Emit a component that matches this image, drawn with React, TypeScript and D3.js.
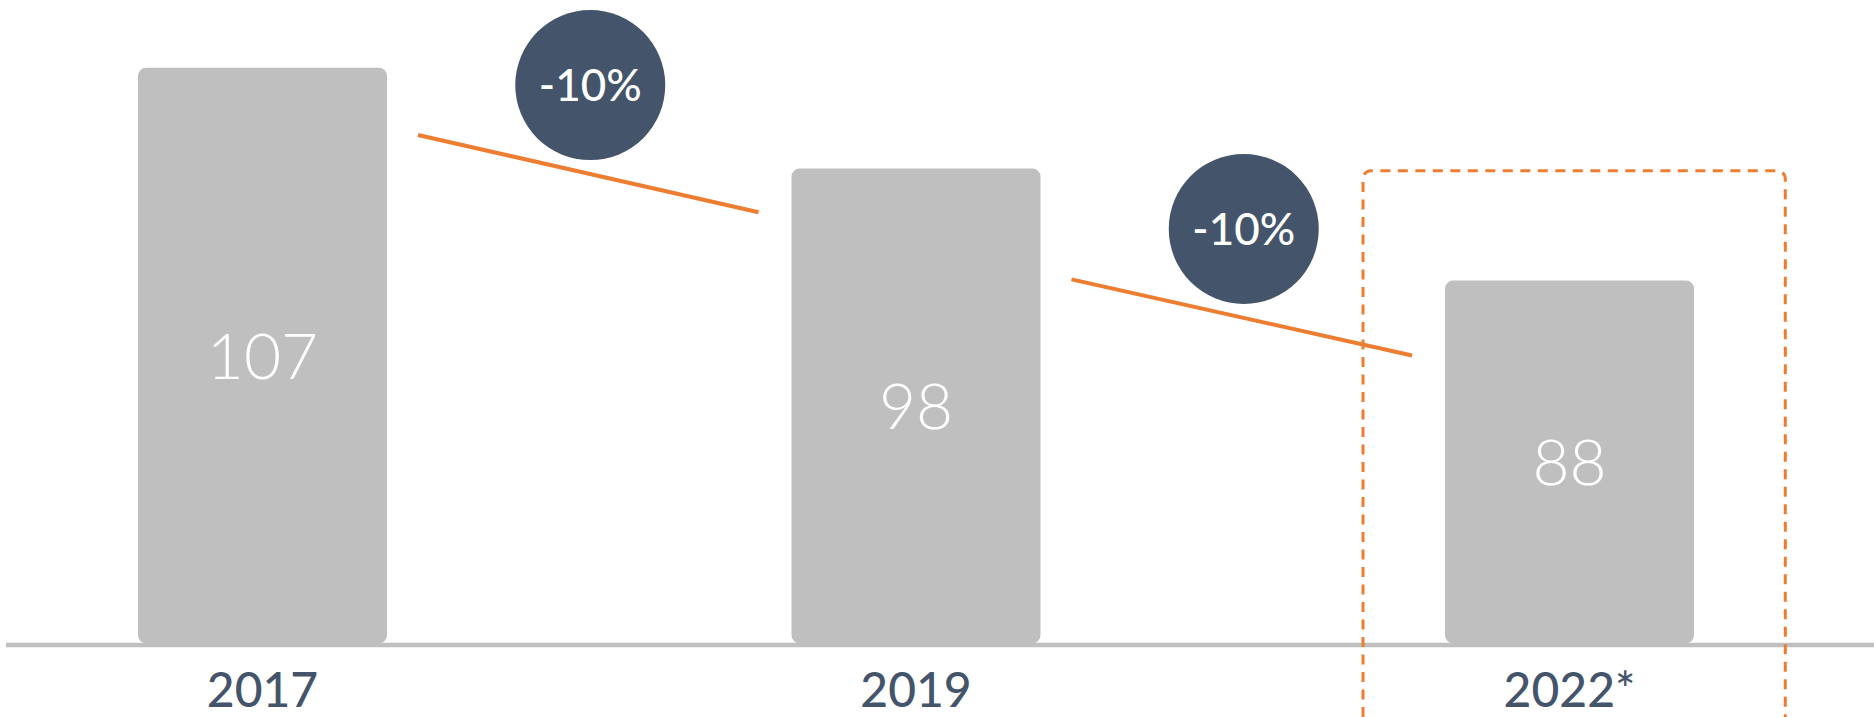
import React from "react";
import * as d3 from "d3";

const years = ["2017", "2019", "2022*"];
const values = [107, 98, 88];
const changeLabels = ["-10%", "-10%"];
const connectorFrom = [101, 88.1];
const connectorTo = [94.1, 81.3];
const highlightYear = "2022*";
const highlightTop = 97.8;
const yDomain = [55.6, 107];

const W = 1874;
const H = 717;
const BASE = 643.3;
const GREY = "#bfbfbf";
const NAVY = "#44546a";
const ORANGE = "#ed7d31";
const FONT = "Lato, 'Open Sans', sans-serif";

export default function App() {
  const step = 653.5;
  const firstCenter = 262.5;
  const x = d3
    .scaleBand<string>()
    .domain(years)
    .range([firstCenter - step / 2, firstCenter - step / 2 + step * years.length])
    .paddingInner(0.619)
    .paddingOuter(0.3095);
  const y = d3.scaleLinear().domain(yDomain).range([BASE, 67.8]);
  const bw = x.bandwidth();
  const r = 8;

  const barPath = (x0: number, y0: number, w: number, y1: number) => {
    const p = d3.path();
    p.moveTo(x0 + r, y0);
    p.lineTo(x0 + w - r, y0);
    p.arcTo(x0 + w, y0, x0 + w, y0 + r, r);
    p.lineTo(x0 + w, y1 - r);
    p.arcTo(x0 + w, y1, x0 + w - r, y1, r);
    p.lineTo(x0 + r, y1);
    p.arcTo(x0, y1, x0, y1 - r, r);
    p.lineTo(x0, y0 + r);
    p.arcTo(x0, y0, x0 + r, y0, r);
    p.closePath();
    return p.toString();
  };

  const hx = x(highlightYear)!;
  const hl = hx - 82;
  const hr = hx + bw + 91.3;
  const ht = y(highlightTop);
  const hp = d3.path();
  hp.moveTo(hl, H);
  hp.lineTo(hl, ht + r);
  hp.arcTo(hl, ht, hl + r, ht, r);
  hp.lineTo(hr - r, ht);
  hp.arcTo(hr, ht, hr, ht + r, r);
  hp.lineTo(hr, H);

  return (
    <svg
      width={W}
      height={H}
      style={{ position: "absolute", left: 0, top: 0, background: "#fff" }}
      fontFamily={FONT}
    >
      {years.map((yr, i) => {
        const x0 = x(yr)!;
        const top = y(values[i]);
        return (
          <g key={yr}>
            <path d={barPath(x0, top, bw, BASE)} fill={GREY} />
            <text
              x={x0 + bw / 2}
              y={(top + BASE) / 2}
              dy="0.36em"
              textAnchor="middle"
              fill="#fff"
              fontSize={64}
              fontWeight={300}
            >
              {values[i]}
            </text>
            <text
              x={x0 + bw / 2}
              y={707}
              textAnchor="middle"
              fill={NAVY}
              fontSize={48}
              fontWeight={500}
            >
              {yr}
            </text>
          </g>
        );
      })}
      <line x1={6} x2={W} y1={645} y2={645} stroke={GREY} strokeWidth={4.5} />
      {changeLabels.map((lab, i) => {
        const x1 = x(years[i])! + bw + 31;
        const x2 = x(years[i + 1])! - 33;
        const y1 = y(connectorFrom[i]);
        const y2 = y(connectorTo[i]);
        const cx = (x(years[i])! + x(years[i + 1])!) / 2 + bw / 2 + 1;
        const cy = (y1 + y2) / 2 - 88.5;
        return (
          <g key={i}>
            <line x1={x1} y1={y1} x2={x2} y2={y2} stroke={ORANGE} strokeWidth={4} />
            <circle cx={cx} cy={cy} r={75} fill="#44546a" />
            <text
              x={cx}
              y={cy}
              dy="0.36em"
              textAnchor="middle"
              fill="#fff"
              fontSize={44}
              fontWeight={500}
            >
              {lab}
            </text>
          </g>
        );
      })}
      <path
        d={hp.toString()}
        fill="none"
        stroke={ORANGE}
        strokeWidth={3}
        strokeDasharray="10,7.5"
      />
    </svg>
  );
}
